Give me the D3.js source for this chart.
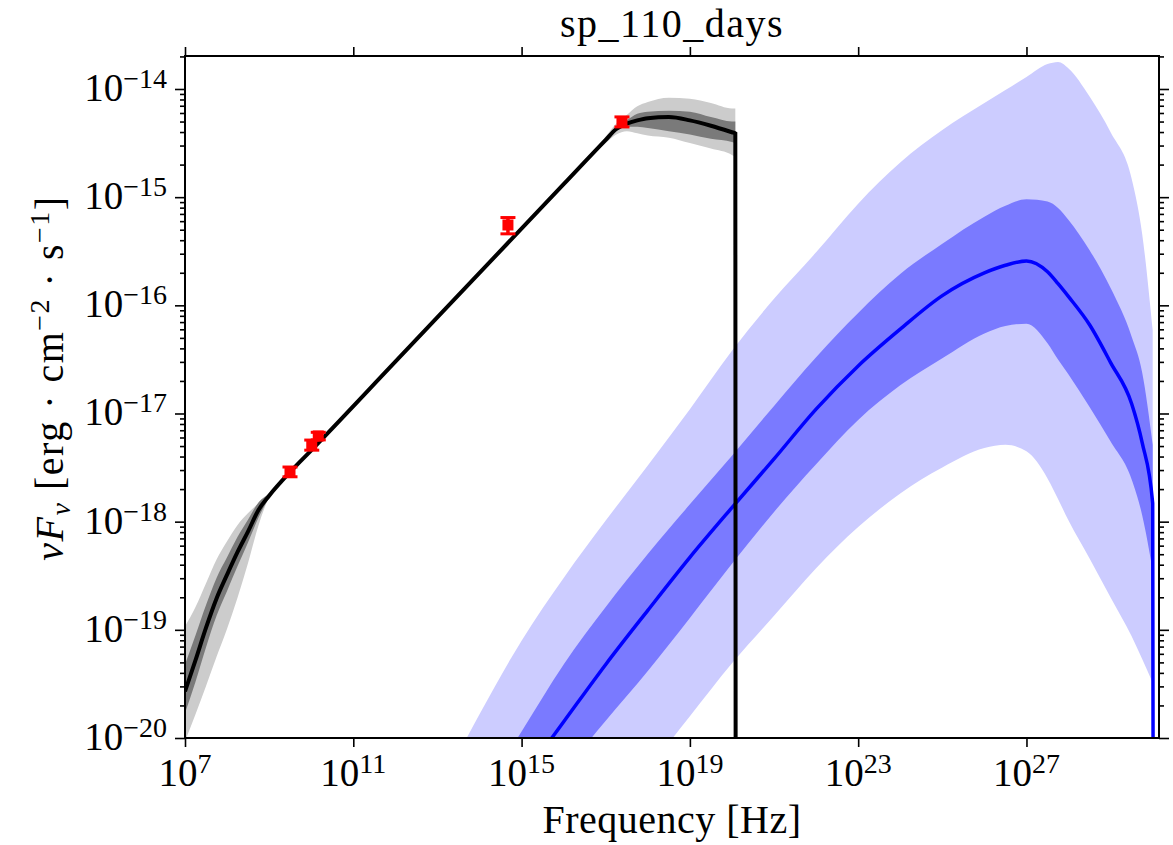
<!DOCTYPE html>
<html>
<head>
<meta charset="utf-8">
<script src="https://cdn.jsdelivr.net/npm/d3@7"></script>
<style>
    body { margin: 0; background: #fff; }
    svg text { font-family: "Liberation Serif", "DejaVu Serif", serif; fill: #000; }
</style>
</head>
<body>
<div id="chart"></div>
<script>
// Synchrotron model, log10(nu / Hz) grid and log10(nuFnu) values
var syncLogNu   = [7, 7.25, 7.5, 7.75, 8, 8.25, 8.5, 8.75, 9, 9.5, 10, 12, 14, 16, 17, 17.25, 17.5, 17.75, 18, 18.5, 19, 19.5, 20, 20.08, 20.1];
var syncLine    = [-19.57, -19.28, -18.98, -18.71, -18.49, -18.28, -18.09, -17.89, -17.76, -17.54, -17.34, -16.52, -15.70, -14.88, -14.47, -14.37, -14.32, -14.29, -14.27, -14.26, -14.29, -14.34, -14.40, -14.41, -30];
var syncOuterHi = [-18.97, -18.79, -18.57, -18.35, -18.18, -18.03, -17.92, -17.83, -17.75, -17.53, -17.33, -16.51, -15.69, -14.87, -14.44, -14.32, -14.24, -14.16, -14.12, -14.08, -14.09, -14.13, -14.18, -14.18, null];
var syncOuterLo = [-20.03, -19.78, -19.52, -19.25, -18.99, -18.70, -18.38, -18.03, -17.77, -17.55, -17.35, -16.53, -15.71, -14.89, -14.50, -14.42, -14.39, -14.41, -14.43, -14.45, -14.50, -14.55, -14.61, -14.63, null];
var syncInnerHi = [-19.32, -19.05, -18.77, -18.52, -18.33, -18.14, -17.98, -17.82, -17.74, -17.53, -17.33, -16.51, -15.69, -14.87, -14.45, -14.35, -14.29, -14.23, -14.21, -14.20, -14.21, -14.26, -14.30, -14.30, null];
var syncInnerLo = [-19.77, -19.48, -19.16, -18.87, -18.64, -18.41, -18.19, -17.96, -17.78, -17.55, -17.35, -16.53, -15.71, -14.89, -14.49, -14.39, -14.35, -14.35, -14.36, -14.39, -14.42, -14.46, -14.49, -14.50, null];

// Inverse Compton model
var icLogNu   = [13.6, 14, 15, 16, 17, 18, 19, 20, 21, 22, 23, 24, 25, 26, 26.5, 27, 27.5, 27.75, 28, 28.5, 29, 29.5, 29.75, 30, 30.05];
var icLine    = [-21.13, -20.90, -20.38, -19.85, -19.32, -18.82, -18.33, -17.87, -17.42, -16.96, -16.56, -16.22, -15.91, -15.70, -15.63, -15.59, -15.69, -15.80, -15.92, -16.18, -16.53, -16.91, -17.27, -17.83, -30];
var icOuterHi = [-20.07, -19.78, -19.10, -18.52, -17.99, -17.48, -16.96, -16.42, -15.94, -15.51, -15.06, -14.68, -14.38, -14.13, -14.01, -13.89, -13.77, -13.75, -13.81, -14.07, -14.40, -14.83, -15.34, -16.23, null];
var icOuterLo = [-22.42, -22.22, -21.74, -21.26, -20.77, -20.29, -19.80, -19.31, -18.87, -18.43, -18.05, -17.74, -17.50, -17.32, -17.29, -17.35, -17.60, -17.79, -17.99, -18.34, -18.70, -19.06, -19.27, -19.49, null];
var icInnerHi = [-20.81, -20.56, -19.94, -19.32, -18.79, -18.30, -17.84, -17.39, -16.93, -16.48, -16.07, -15.71, -15.43, -15.18, -15.08, -15.02, -15.04, -15.10, -15.21, -15.49, -15.84, -16.29, -16.62, -17.29, null];
var icInnerLo = [-21.50, -21.24, -20.77, -20.31, -19.84, -19.38, -18.89, -18.39, -17.91, -17.47, -17.06, -16.74, -16.49, -16.26, -16.19, -16.17, -16.35, -16.50, -16.64, -16.94, -17.26, -17.61, -17.94, -18.45, null];

// Observed points (Hz, erg cm^-2 s^-1)
var obsNu   = [3.13e9, 1.03e10, 1.47e10, 4.74e14, 2.43e17];
var obsFlux = [2.9e-18, 5.13e-18, 6.2e-18, 5.53e-16, 4.99e-15];
var obsErr  = [0.3e-18, 0.55e-18, 0.5e-18, 0.95e-16, 0.53e-15];

var xTickExponents = [7, 11, 15, 19, 23, 27];
var yTickExponents = [-20, -19, -18, -17, -16, -15, -14];

var WIDTH = 1173, HEIGHT = 845;
var plot = {left: 185, right: 1159, top: 56, bottom: 738};

var svg = d3.select('#chart').append('svg')
    .attr('width', WIDTH)
    .attr('height', HEIGHT);

var x = d3.scaleLog()
    .domain([1e7, Math.pow(10, 30.15)])
    .range([plot.left, plot.right]);
var y = d3.scaleLog()
    .domain([1e-20, Math.pow(10, -13.695)])
    .range([plot.bottom, plot.top]);

svg.append('clipPath').attr('id', 'plot-clip')
    .append('rect')
    .attr('x', plot.left).attr('y', plot.top)
    .attr('width', plot.right - plot.left)
    .attr('height', plot.bottom - plot.top);

function rows(logNu, lo, hi) {
    return logNu.map(function (l, i) {
        return {nu: Math.pow(10, l), lo: lo[i], hi: hi ? hi[i] : null};
    });
}

var band = d3.area()
    .defined(function (d) { return d.lo !== null && d.hi !== null; })
    .x(function (d) { return x(d.nu); })
    .y0(function (d) { return y(Math.pow(10, d.lo)); })
    .y1(function (d) { return y(Math.pow(10, d.hi)); })
    .curve(d3.curveMonotoneX);

var line = d3.line()
    .x(function (d) { return x(d.nu); })
    .y(function (d) { return y(Math.pow(10, d.lo)); })
    .curve(d3.curveMonotoneX);

var g = svg.append('g').attr('clip-path', 'url(#plot-clip)');

// inverse Compton bands and line
g.append('path').datum(rows(icLogNu, icOuterLo, icOuterHi)).attr('d', band).attr('fill', '#ccccff');
g.append('path').datum(rows(icLogNu, icInnerLo, icInnerHi)).attr('d', band).attr('fill', '#7a7aff');
g.append('path').datum(rows(icLogNu, icLine)).attr('d', line)
    .attr('fill', 'none').attr('stroke', '#0000ff').attr('stroke-width', 3.5);

// synchrotron bands and line
g.append('path').datum(rows(syncLogNu, syncOuterLo, syncOuterHi)).attr('d', band).attr('fill', '#cccccc');
g.append('path').datum(rows(syncLogNu, syncInnerLo, syncInnerHi)).attr('d', band).attr('fill', '#7a7a7a');
g.append('path').datum(rows(syncLogNu, syncLine)).attr('d', line)
    .attr('fill', 'none').attr('stroke', '#000').attr('stroke-width', 4);

// data points with error bars
var points = obsNu.map(function (nu, i) {
    return {nu: nu, flux: obsFlux[i], err: obsErr[i]};
});
var pg = g.selectAll('g.point').data(points).enter().append('g').attr('class', 'point');
pg.append('line')
    .attr('x1', function (d) { return x(d.nu); })
    .attr('x2', function (d) { return x(d.nu); })
    .attr('y1', function (d) { return y(d.flux - d.err); })
    .attr('y2', function (d) { return y(d.flux + d.err); })
    .attr('stroke', '#ff0000').attr('stroke-width', 3.5);
[-1, 1].forEach(function (s) {
    pg.append('line')
        .attr('x1', function (d) { return x(d.nu) - 7.5; })
        .attr('x2', function (d) { return x(d.nu) + 7.5; })
        .attr('y1', function (d) { return y(d.flux + s * d.err); })
        .attr('y2', function (d) { return y(d.flux + s * d.err); })
        .attr('stroke', '#ff0000').attr('stroke-width', 3);
});
pg.append('rect')
    .attr('x', function (d) { return x(d.nu) - 5.5; })
    .attr('y', function (d) { return y(d.flux) - 5.5; })
    .attr('width', 11).attr('height', 11)
    .attr('fill', '#ff0000');

// ticks
var xMajor = xTickExponents.map(function (e) { return Math.pow(10, e); });
var yMajor = yTickExponents.map(function (e) { return Math.pow(10, e); });
var yMinor = [];
yTickExponents.forEach(function (e) {
    for (var k = 2; k <= 9; k++) {
        var v = k * Math.pow(10, e);
        if (v <= y.domain()[1]) yMinor.push(v);
    }
});

function drawTicks(axis, transform) {
    var t = svg.append('g').attr('transform', transform).call(axis);
    t.select('.domain').remove();
    t.selectAll('text').remove();
    t.selectAll('line').attr('stroke', '#000').attr('stroke-width', 1.6);
}

drawTicks(d3.axisBottom(x).tickValues(xMajor).tickSize(9), 'translate(0,' + plot.bottom + ')');
drawTicks(d3.axisTop(x).tickValues(xMajor).tickSize(9), 'translate(0,' + plot.top + ')');
drawTicks(d3.axisLeft(y).tickValues(yMajor).tickSize(10), 'translate(' + plot.left + ',0)');
drawTicks(d3.axisLeft(y).tickValues(yMinor).tickSize(5), 'translate(' + plot.left + ',0)');
drawTicks(d3.axisRight(y).tickValues(yMajor).tickSize(10), 'translate(' + plot.right + ',0)');
drawTicks(d3.axisRight(y).tickValues(yMinor).tickSize(5), 'translate(' + plot.right + ',0)');

// frame
svg.append('rect')
    .attr('x', plot.left).attr('y', plot.top)
    .attr('width', plot.right - plot.left)
    .attr('height', plot.bottom - plot.top)
    .attr('fill', 'none').attr('stroke', '#000').attr('stroke-width', 2);

function powerLabel(text, exponent) {
    text.append('tspan').text('10');
    text.append('tspan')
        .attr('dy', -13)
        .attr('font-size', 28)
        .text(exponent < 0 ? '\u2212' + (-exponent) : String(exponent));
}

xTickExponents.forEach(function (e) {
    var t = svg.append('text')
        .attr('x', x(Math.pow(10, e)))
        .attr('y', 786)
        .attr('font-size', 39)
        .attr('text-anchor', 'middle');
    powerLabel(t, e);
});

yTickExponents.forEach(function (e) {
    var t = svg.append('text')
        .attr('x', 167)
        .attr('y', y(Math.pow(10, e)) + 12)
        .attr('font-size', 39)
        .attr('text-anchor', 'end');
    powerLabel(t, e);
});

// title and axis labels
svg.append('text')
    .attr('x', (plot.left + plot.right) / 2)
    .attr('y', 37)
    .attr('font-size', 40)
    .attr('letter-spacing', 1.5)
    .attr('text-anchor', 'middle')
    .text('sp_110_days');

svg.append('text')
    .attr('x', (plot.left + plot.right) / 2)
    .attr('y', 833)
    .attr('font-size', 40)
    .attr('letter-spacing', 0.5)
    .attr('text-anchor', 'middle')
    .text('Frequency [Hz]');

var yl = svg.append('text')
    .attr('transform', 'translate(63,378) rotate(-90)')
    .attr('font-size', 40)
    .attr('letter-spacing', 1.5)
    .attr('text-anchor', 'middle');
yl.append('tspan').attr('font-style', 'italic').text('\u03bdF');
yl.append('tspan').attr('font-style', 'italic').attr('font-size', 28).attr('dy', 7).text('\u03bd');
yl.append('tspan').attr('dy', -7).text(' [erg \u00b7 cm');
yl.append('tspan').attr('font-size', 28).attr('dy', -14).text('\u22122');
yl.append('tspan').attr('dy', 14).text(' \u00b7 s');
yl.append('tspan').attr('font-size', 28).attr('dy', -14).text('\u22121');
yl.append('tspan').attr('dy', 14).text(']');
</script>
</body>
</html>
